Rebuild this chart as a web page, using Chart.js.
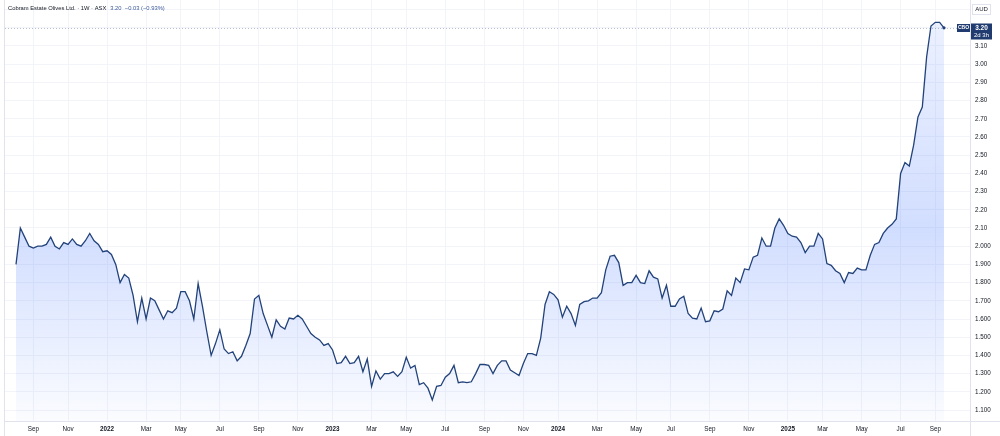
<!DOCTYPE html>
<html><head><meta charset="utf-8">
<script src="https://cdn.jsdelivr.net/npm/chart.js@4/dist/chart.umd.min.js"></script>
<style>html,body{margin:0;padding:0;background:#fff;overflow:hidden}#wrap{width:1000px;height:436px;position:relative}</style>
</head><body><div id="wrap"><canvas id="c" width="1000" height="436"></canvas></div>
<script>
// Weekly closes (AUD), first bar week of 2021-08-09
const firstBarDate = '2021-08-09';
const closes = [
1.90, 2.10, 2.05, 2.00, 1.99, 2.00, 2.00, 2.01, 2.05, 2.00,
1.985, 2.02, 2.01, 2.04, 2.01, 2.00, 2.03, 2.07, 2.03, 2.01,
1.97, 1.975, 1.955, 1.90, 1.80, 1.845, 1.825, 1.73, 1.585, 1.715,
1.60, 1.715, 1.70, 1.65, 1.60, 1.645, 1.635, 1.66, 1.75, 1.75,
1.70, 1.60, 1.795, 1.67, 1.53, 1.40, 1.465, 1.54, 1.435, 1.41,
1.42, 1.37, 1.395, 1.455, 1.52, 1.71, 1.73, 1.63, 1.565, 1.50,
1.595, 1.56, 1.545, 1.605, 1.60, 1.62, 1.60, 1.56, 1.52, 1.50,
1.485, 1.455, 1.465, 1.43, 1.355, 1.36, 1.395, 1.355, 1.36, 1.395,
1.31, 1.38, 1.23, 1.315, 1.27, 1.30, 1.30, 1.31, 1.285, 1.31,
1.39, 1.33, 1.345, 1.24, 1.25, 1.22, 1.155, 1.23, 1.235, 1.28,
1.30, 1.345, 1.25, 1.255, 1.25, 1.255, 1.30, 1.35, 1.35, 1.345,
1.30, 1.345, 1.37, 1.37, 1.32, 1.305, 1.29, 1.355, 1.41, 1.41,
1.40, 1.495, 1.68, 1.75, 1.735, 1.705, 1.61, 1.67, 1.63, 1.565,
1.68, 1.695, 1.70, 1.715, 1.715, 1.745, 1.87, 1.945, 1.95, 1.91,
1.785, 1.80, 1.80, 1.84, 1.80, 1.795, 1.865, 1.83, 1.82, 1.715,
1.785, 1.67, 1.67, 1.71, 1.725, 1.63, 1.605, 1.60, 1.66, 1.585,
1.59, 1.645, 1.64, 1.655, 1.755, 1.73, 1.825, 1.80, 1.875, 1.87,
1.94, 1.95, 2.045, 2.00, 2.00, 2.10, 2.15, 2.115, 2.07, 2.055,
2.05, 2.02, 1.965, 2.00, 2.00, 2.07, 2.04, 1.905, 1.895, 1.865,
1.85, 1.80, 1.855, 1.85, 1.88, 1.87, 1.87, 1.95, 2.01, 2.02,
2.07, 2.10, 2.12, 2.15, 2.40, 2.46, 2.44, 2.555, 2.71, 2.765,
3.04, 3.21, 3.23, 3.23, 3.20
];
const tickMonths = ['2021-09','2021-11','2022-01','2022-03','2022-05','2022-07','2022-09','2022-11',
  '2023-01','2023-03','2023-05','2023-07','2023-09','2023-11','2024-01','2024-03','2024-05','2024-07',
  '2024-09','2024-11','2025-01','2025-03','2025-05','2025-07','2025-09'];
const monthNames = ['Jan','Feb','Mar','Apr','May','Jun','Jul','Aug','Sep','Oct','Nov','Dec'];
const yTickValues = [1.1,1.2,1.3,1.4,1.5,1.6,1.7,1.8,1.9,2.0,2.1,2.2,2.3,2.4,2.5,2.6,2.7,2.8,2.9,3.0,3.1,3.2,3.3];
const yTickLabels = ['1.100','1.200','1.300','1.400','1.500','1.600','1.700','1.800','1.900','2.000',
  '2.10','2.20','2.30','2.40','2.50','2.60','2.70','2.80','2.90','3.00','3.10','',''];
const titleText = 'Cobram Estate Olives Ltd. · 1W · ASX';
const quoteText = '3.20  −0.03 (−0.93%)';
const symbol = 'CBO';
const lastPriceText = '3.20';
const countdownText = '2d 3h';
const currency = 'AUD';

const DAY = 86400000;
const t0 = Date.parse(firstBarDate + 'T00:00:00Z');
const barTime = i => t0 + i * 7 * DAY;
const points = closes.map((v, i) => ({x: i, y: v}));
const xTicks = tickMonths.map(m => {
  const [yy, mm] = m.split('-').map(Number);
  const ms = Date.UTC(yy, mm - 1, 1);
  let i = 0; while (barTime(i) < ms) i++;
  return {value: i, label: mm === 1 ? String(yy) : monthNames[mm - 1], year: mm === 1};
});

const FONT = '"Liberation Sans", Arial, sans-serif';
const LINE = '#22427a';
const NAVY = '#1f3b6f';

const overlay = {
  id: 'overlay',
  afterDraw(chart) {
    const ctx = chart.ctx, ca = chart.chartArea, ys = chart.scales.y;
    ctx.save();
    // axis separators / borders
    ctx.strokeStyle = '#e0e3eb'; ctx.lineWidth = 1;
    ctx.beginPath(); ctx.moveTo(ca.right + 0.5, 0); ctx.lineTo(ca.right + 0.5, 436); ctx.stroke();
    ctx.beginPath(); ctx.moveTo(ca.left - 0.5, 0); ctx.lineTo(ca.left - 0.5, 436); ctx.stroke();
    ctx.beginPath(); ctx.moveTo(ca.left, ca.bottom + 0.5); ctx.lineTo(1000, ca.bottom + 0.5); ctx.stroke();
    // last price line
    const py = Math.round(ys.getPixelForValue(closes[closes.length - 1])) + 0.5;
    ctx.strokeStyle = 'rgba(31,59,111,0.32)'; ctx.setLineDash([1, 2]);
    ctx.beginPath(); ctx.moveTo(ca.left, py); ctx.lineTo(957, py); ctx.stroke();
    ctx.setLineDash([]);
    // header
    ctx.textBaseline = 'middle'; ctx.textAlign = 'left';
    ctx.font = '5.8px ' + FONT; ctx.fillStyle = '#131722';
    ctx.fillText(titleText, 8, 8.5);
    const w = ctx.measureText(titleText).width;
    ctx.fillStyle = '#3d5a9c';
    ctx.fillText(quoteText, 8 + w + 4, 8.5);
    // symbol box
    ctx.fillStyle = NAVY;
    ctx.fillRect(957, py - 4.5, 13, 8);
    ctx.fillStyle = '#fff'; ctx.font = 'bold 5px ' + FONT; ctx.textAlign = 'center';
    ctx.fillText(symbol, 963.5, py - 0.5);
    // price box
    ctx.fillStyle = NAVY;
    ctx.fillRect(971, py - 5, 21, 16);
    ctx.fillStyle = '#fff'; ctx.font = 'bold 6.5px ' + FONT;
    ctx.fillText(lastPriceText, 981.5, py - 0.5);
    ctx.font = '6px ' + FONT;
    ctx.fillText(countdownText, 981.5, py + 6.5);
    // currency box
    ctx.strokeStyle = '#e0e3eb';
    ctx.strokeRect(972.5, 4.5, 18, 10);
    ctx.fillStyle = '#131722'; ctx.font = '6px ' + FONT;
    ctx.fillText(currency, 981.5, 9.8);
    ctx.restore();
  }
};

new Chart(document.getElementById('c'), {
  type: 'line',
  data: {
    datasets: [{
      data: points,
      borderColor: LINE,
      borderWidth: 1.3,
      tension: 0,
      pointRadius: ctx => ctx.dataIndex === closes.length - 1 ? 1.6 : 0,
      pointHoverRadius: 0,
      pointBackgroundColor: LINE,
      pointBorderWidth: 0,
      fill: 'start',
      backgroundColor: ctx => {
        const ca = ctx.chart.chartArea;
        if (!ca) return 'rgba(41,98,255,0.15)';
        const g = ctx.chart.ctx.createLinearGradient(0, ca.top, 0, ca.bottom);
        g.addColorStop(0, 'rgba(41,98,255,0.08)');
        g.addColorStop(0.55, 'rgba(41,98,255,0.21)');
        g.addColorStop(1, 'rgba(41,98,255,0.02)');
        return g;
      }
    }]
  },
  options: {
    responsive: false,
    devicePixelRatio: 1,
    animation: false,
    layout: {padding: {left: 5, right: 0, top: 0, bottom: 0}, autoPadding: false},
    plugins: {legend: {display: false}, tooltip: {enabled: false}},
    scales: {
      x: {
        type: 'linear',
        min: -2.54, max: 220,
        grid: {color: '#f2f4f9', drawTicks: false, lineWidth: 1},
        border: {display: false},
        afterBuildTicks: axis => { axis.ticks = xTicks.map(t => ({value: t.value})); },
        afterFit: axis => { axis.height = 15; axis.paddingLeft = 0; axis.paddingRight = 0; },
        ticks: {
          autoSkip: false, maxRotation: 0, padding: 4,
          color: '#131722',
          font: ctx => ({family: FONT, size: 6.3, weight: (xTicks[ctx.index] && xTicks[ctx.index].year) ? 'bold' : 'normal'}),
          callback: (v, i) => xTicks[i] ? xTicks[i].label : ''
        }
      },
      y: {
        position: 'right',
        min: 1.0396, max: 3.3527,
        grid: {color: '#f2f4f9', drawTicks: false, lineWidth: 1},
        border: {display: false},
        afterBuildTicks: axis => { axis.ticks = yTickValues.map(v => ({value: v})); },
        afterFit: axis => { axis.width = 30; axis.paddingTop = 0; axis.paddingBottom = 0; },
        ticks: {
          padding: 5, color: '#131722',
          font: {family: FONT, size: 6.3},
          callback: (v, i) => yTickLabels[i]
        }
      }
    }
  },
  plugins: [overlay]
});
</script>
</body></html>
